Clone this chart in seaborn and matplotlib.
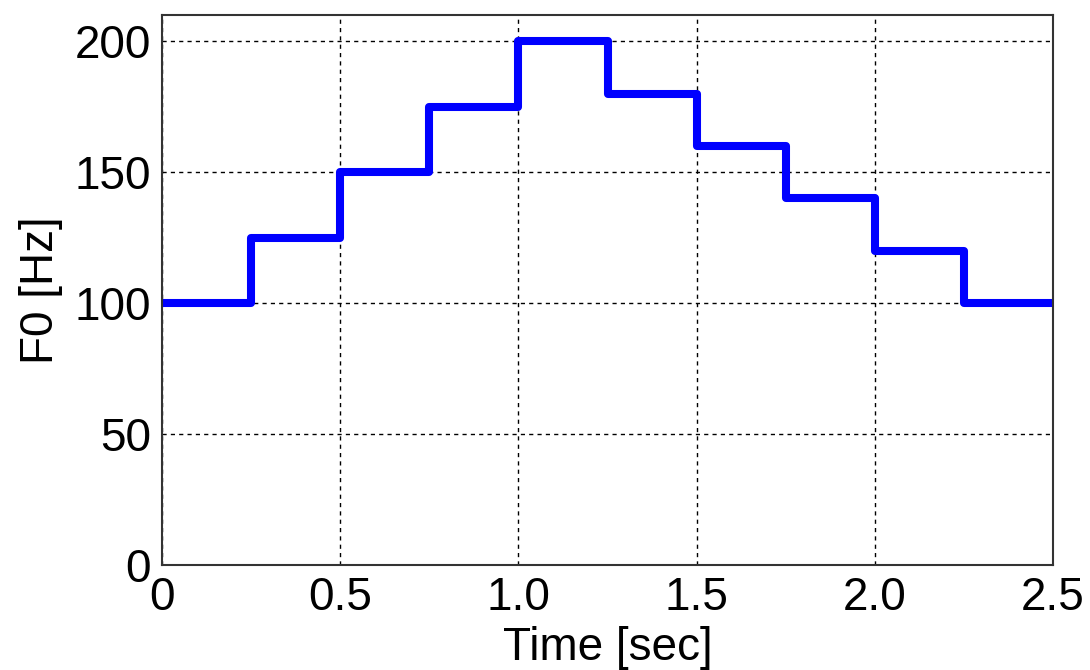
import matplotlib
matplotlib.use("Agg")
import matplotlib.pyplot as plt
import seaborn as sns
import pandas as pd

time_sec = [0.0, 0.25, 0.5, 0.75, 1.0, 1.25, 1.5, 1.75, 2.0, 2.25, 2.5]
f0_hz = [100, 125, 150, 175, 200, 180, 160, 140, 120, 100, 100]
x_ticks = [0, 0.5, 1.0, 1.5, 2.0, 2.5]
x_tick_labels = ["0", "0.5", "1.0", "1.5", "2.0", "2.5"]
y_ticks = [0, 50, 100, 150, 200]

sns.set_style("white")
plt.rcParams['font.family'] = ['Liberation Sans', 'DejaVu Sans']

fig = plt.figure(figsize=(10.9, 6.7), dpi=100)
ax = fig.add_axes([162/1090, 1 - 565/670, (1053-162)/1090, (565-15)/670])

df = pd.DataFrame({"t": time_sec, "f0": f0_hz})
sns.lineplot(data=df, x="t", y="f0", drawstyle="steps-post", color="#0000ff",
             linewidth=5.8, ax=ax, legend=False)

ax.set_xlim(0, 2.5)
ax.set_ylim(0, 210)
ax.set_xticks(x_ticks)
ax.set_xticklabels(x_tick_labels)
ax.set_yticks(y_ticks)
ax.grid(True, color="black", linestyle=(0, (3, 3)), linewidth=1.0)
ax.set_axisbelow(True)
for s in ax.spines.values():
    s.set_color("#333333")
    s.set_linewidth(1.5)
ax.tick_params(axis="both", labelsize=33, length=0, colors="black")
ax.tick_params(axis="x", pad=8)
ax.tick_params(axis="y", pad=8)
ax.set_xlabel("Time [sec]", fontsize=33, labelpad=4, color="black")
ax.set_ylabel("F0 [Hz]", fontsize=33, labelpad=8, color="black")

fig.savefig("out.png", dpi=100)
